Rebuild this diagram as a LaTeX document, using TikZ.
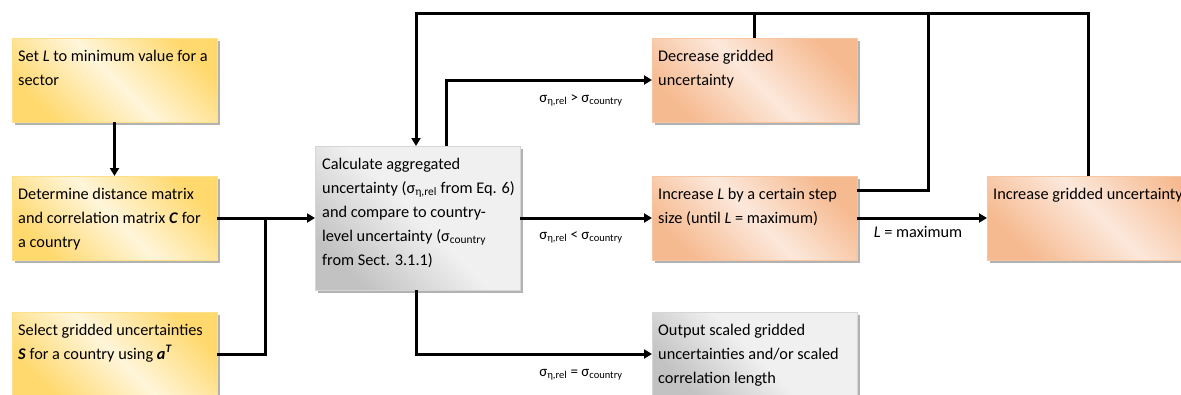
\documentclass[tikz,border=0pt]{standalone}
\usepackage{fontspec}
\setmainfont{Carlito}
\usetikzlibrary{arrows.meta,shadows}
\definecolor{ydark}{HTML}{FFD96E}
\definecolor{ylight}{HTML}{FFF5DA}
\definecolor{ybord}{HTML}{FFE08A}
\definecolor{odark}{HTML}{F6BA90}
\definecolor{olight}{HTML}{FCE8DB}
\definecolor{obord}{HTML}{F8C5A3}
\definecolor{gdark}{HTML}{C2C2C2}
\definecolor{glight}{HTML}{F0F0F0}
\definecolor{gbord}{HTML}{D6D6D6}
\begin{document}
\begin{tikzpicture}[x=1pt,y=-1pt,
  font=\fontsize{16.3}{24}\selectfont,
  boxbase/.style={rectangle, inner sep=0pt, outer sep=0pt, minimum width=205pt, minimum height=84pt, line width=1pt, anchor=north west,
    drop shadow={shadow xshift=3pt, shadow yshift=-3pt, fill=black, opacity=0.3}},
  yelbox/.style={boxbase, draw=ybord, top color=ydark, bottom color=ydark, middle color=ylight, shading angle=-45},
  orabox/.style={boxbase, draw=obord, top color=odark, bottom color=odark, middle color=olight, shading angle=-45},
  grabox/.style={boxbase, draw=gbord, top color=glight, bottom color=gdark, middle color=glight, shading angle=-45},
  txt/.style={anchor=north west, inner sep=0pt, align=left},
  conn/.style={line width=3pt, line join=miter},
  arr/.style={conn, -{Triangle[length=8pt,width=9pt]}},
  lab/.style={anchor=base, inner sep=0pt, font=\fontsize{15}{18}\selectfont}
]
\useasboundingbox (0,0) rectangle (1181,394);
% left column
\node[yelbox] (b1) at (12,38) {};
\node[txt] (t1) at (18,44) {\strut Set \textit{L} to minimum value for a\\sector};
\node[yelbox] (b2) at (12,176) {};
\node[txt] (t2) at (18,182) {\strut Determine distance matrix\\and correlation matrix \textbf{\textit{C}} for\\a country};
\node[yelbox] (b3) at (12,312) {};
\node[txt] (t3) at (18,318) {\strut Select gridded uncertainties\\\textbf{\textit{S}} for a country using \textbf{\textit{a}}\textsuperscript{\textbf{\textit{T}}}};
% centre
\node[grabox, minimum height=144pt] (g) at (315,146) {};
\node[txt] (tg) at (322,152) {\strut Calculate aggregated\\uncertainty (σ\textsubscript{η,rel} from Eq. 6)\\and compare to country-\\level uncertainty (σ\textsubscript{country}\\from Sect. 3.1.1)};
% right column
\node[orabox] (d) at (652,38) {};
\node[txt] (td) at (658,44) {\strut Decrease gridded\\uncertainty};
\node[orabox] (il) at (652,176) {};
\node[txt] (til) at (658,182) {\strut Increase \textit{L} by a certain step\\size (until \textit{L} = maximum)};
\node[grabox] (o) at (652,312) {};
\node[txt] (to) at (658,318) {\strut Output scaled gridded\\uncertainties and/or scaled\\correlation length};
\node[orabox, minimum width=230pt] (ig) at (987,176) {};
\node[txt] (tig) at (993,182) {\strut Increase gridded uncertainty};
% connectors
\coordinate (j) at (265,218);
\coordinate (tl) at (416,13);
\coordinate (tr) at (1088,13);
\coordinate (c2) at (928,190);
\coordinate (c3) at (446,80);
\draw[arr] (b1.south) -- (b2.north);
\draw[conn] (b2.east) -- (j);
\draw[conn] (b3.east) -| (j);
\draw[arr] (j) -- (g.west);
\draw[arr] (tr |- ig.north) -- (tr) -- (tl) -- (tl |- g.north);
\draw[conn] (d.north) -- (d.north |- tl);
\draw[conn] (il.east |- c2) -- (c2) -- (c2 |- tl);
\draw[arr] (c3 |- g.north) -- (c3) -- (d.west);
\draw[arr] (g.east) -- (il.west);
\draw[arr] (tl |- g.south) |- (o.west);
\draw[arr] (il.east) -- (ig.west);
% labels
\node[lab] (l1) at (581,102) {σ\textsubscript{η,rel} > σ\textsubscript{country}};
\node[lab] (l2) at (581,239) {σ\textsubscript{η,rel} < σ\textsubscript{country}};
\node[lab] (l3) at (581,376) {σ\textsubscript{η,rel} = σ\textsubscript{country}};
\node[lab, font=\fontsize{16.3}{20}\selectfont] (l4) at (918,237) {\textit{L} = maximum};
\end{tikzpicture}
\end{document}
